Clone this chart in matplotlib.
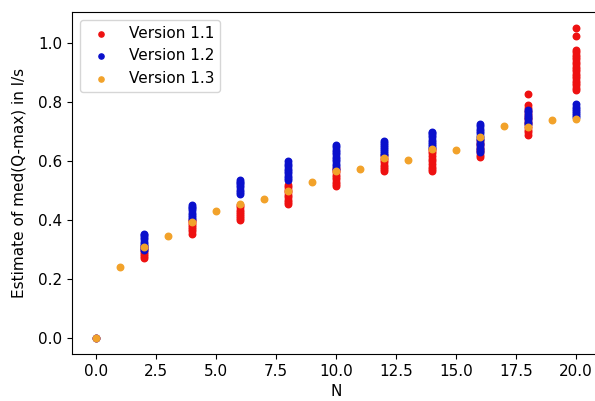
import matplotlib
matplotlib.use("Agg")
import matplotlib.pyplot as plt
import numpy as np

plt.rcParams["font.size"] = 11

# Even N values where versions 1.1 and 1.2 were evaluated
even_n = [0, 2, 4, 6, 8, 10, 12, 14, 16, 18, 20]

# Version 1.1 estimates (several runs per N)
v11_values = [
    [0.0],
    [0.272, 0.279, 0.286, 0.293, 0.300, 0.307, 0.312],
    [0.355, 0.362, 0.369, 0.376, 0.383, 0.390, 0.397, 0.402],
    [0.400, 0.407, 0.414, 0.421, 0.428, 0.436, 0.444, 0.452],
    [0.455, 0.462, 0.470, 0.478, 0.486, 0.494, 0.502, 0.511, 0.520],
    [0.515, 0.522, 0.530, 0.538, 0.546, 0.554, 0.562, 0.570, 0.577],
    [0.565, 0.572, 0.580, 0.588, 0.596, 0.604, 0.612, 0.620],
    [0.565, 0.573, 0.581, 0.590, 0.599, 0.608, 0.617, 0.626, 0.635, 0.642],
    [0.615, 0.622, 0.630, 0.638, 0.646, 0.654, 0.662, 0.670],
    [0.690, 0.698, 0.706, 0.715, 0.724, 0.733, 0.742, 0.751, 0.760, 0.770, 0.780, 0.790, 0.827],
    [0.840, 0.848, 0.856, 0.864, 0.872, 0.880, 0.888, 0.896, 0.904, 0.912,
     0.920, 0.928, 0.936, 0.944, 0.952, 0.960, 0.968, 0.975, 1.022, 1.052],
]

# Version 1.2 estimates (several runs per N)
v12_values = [
    [0.0],
    [0.300, 0.307, 0.314, 0.321, 0.328, 0.335, 0.342, 0.349, 0.355],
    [0.405, 0.412, 0.419, 0.426, 0.433, 0.440, 0.446, 0.452],
    [0.490, 0.497, 0.504, 0.511, 0.518, 0.525, 0.531, 0.537],
    [0.535, 0.543, 0.551, 0.559, 0.567, 0.575, 0.583, 0.591, 0.600],
    [0.575, 0.583, 0.591, 0.599, 0.607, 0.615, 0.623, 0.631, 0.639, 0.647, 0.655],
    [0.620, 0.627, 0.634, 0.641, 0.648, 0.655, 0.662, 0.667],
    [0.645, 0.652, 0.659, 0.666, 0.673, 0.680, 0.687, 0.694, 0.700],
    [0.630, 0.638, 0.646, 0.654, 0.662, 0.670, 0.678, 0.686, 0.694, 0.702, 0.710, 0.718, 0.725],
    [0.725, 0.733, 0.741, 0.749, 0.757, 0.765, 0.772],
    [0.748, 0.755, 0.762, 0.769, 0.776, 0.783, 0.792],
]

# Version 1.3 estimates (one per N)
v13_n = list(range(0, 21))
v13_values = [0.0, 0.243, 0.310, 0.346, 0.395, 0.430, 0.455, 0.473, 0.500, 0.530,
              0.565, 0.574, 0.610, 0.604, 0.640, 0.637, 0.680, 0.720, 0.715, 0.738, 0.743]

labels = ["Version 1.1", "Version 1.2", "Version 1.3"]
colors = ["#ee1111", "#0a10cc", "#f2a22a"]

fig = plt.figure(figsize=(5.95, 4.01), dpi=100)
ax = fig.add_axes([72 / 595, 47 / 401, 528 / 595, 342 / 401])

for vals, lab, col in [(v11_values, labels[0], colors[0]), (v12_values, labels[1], colors[1])]:
    xs = np.concatenate([[n] * len(v) for n, v in zip(even_n, vals)])
    ys = np.concatenate(vals)
    ax.scatter(xs, ys, s=22, color=col, label=lab, zorder=2)

ax.scatter(v13_n, v13_values, s=22, color=colors[2], label=labels[2], zorder=3)

ax.set_xlabel("N")
ax.set_ylabel("Estimate of med(Q-max) in l/s", labelpad=8)
ax.set_xticks([0, 2.5, 5, 7.5, 10, 12.5, 15, 17.5, 20])
ax.set_xticklabels(["0.0", "2.5", "5.0", "7.5", "10.0", "12.5", "15.0", "17.5", "20.0"])
ax.set_yticks([0.0, 0.2, 0.4, 0.6, 0.8, 1.0])
ax.set_yticklabels(["0.0", "0.2", "0.4", "0.6", "0.8", "1.0"])
ax.legend(loc="upper left", markerscale=0.8)

fig.savefig("out.png", dpi=100)
